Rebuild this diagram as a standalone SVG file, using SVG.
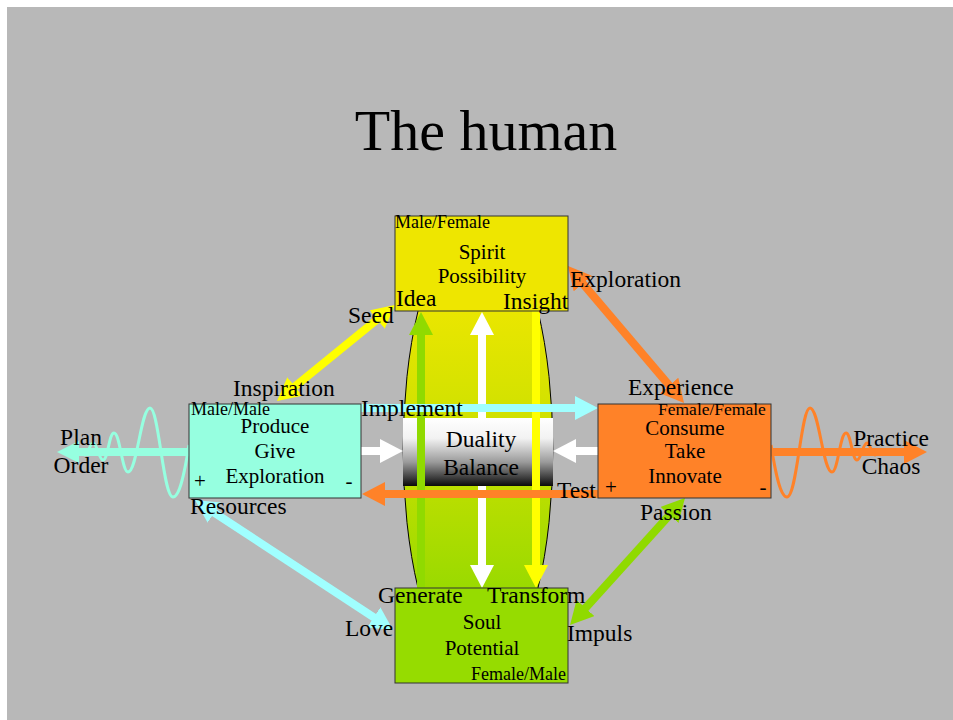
<svg xmlns="http://www.w3.org/2000/svg" width="953" height="720" viewBox="0 0 953 720">
<defs>
<style>
text{font-family:"Liberation Serif","Times New Roman",serif;fill:#000}
.lbl{font-size:23.5px}
.box{font-size:21px;text-anchor:middle}
.sm{font-size:18px}
.ttl{font-size:58px;text-anchor:middle}
.nb{stroke:#333;stroke-width:1}
.sh{fill:none;stroke-width:8}
.wave{fill:none;stroke-width:3}
</style>
<linearGradient id="lens" x1="0" y1="0" x2="0" y2="1">
<stop offset="0" stop-color="#eae600"/>
<stop offset="0.5" stop-color="#c8e000"/>
<stop offset="1" stop-color="#9ada00"/>
</linearGradient>
<linearGradient id="bw" x1="0" y1="0" x2="0" y2="1">
<stop offset="0" stop-color="#ffffff"/>
<stop offset="0.3" stop-color="#f2f2f2"/>
<stop offset="0.65" stop-color="#9a9a9a"/>
<stop offset="1" stop-color="#0a0a0a"/>
</linearGradient>
<marker id="mY" markerUnits="userSpaceOnUse" markerWidth="23" markerHeight="24" viewBox="0 0 23 24" refX="1" refY="12" orient="auto-start-reverse"><path d="M0,0L23,12L0,24Z" fill="#ffff00"/></marker>
<marker id="mO" markerUnits="userSpaceOnUse" markerWidth="23" markerHeight="24" viewBox="0 0 23 24" refX="1" refY="12" orient="auto-start-reverse"><path d="M0,0L23,12L0,24Z" fill="#ff8228"/></marker>
<marker id="mC" markerUnits="userSpaceOnUse" markerWidth="23" markerHeight="24" viewBox="0 0 23 24" refX="1" refY="12" orient="auto-start-reverse"><path d="M0,0L23,12L0,24Z" fill="#a0ffff"/></marker>
<marker id="mG" markerUnits="userSpaceOnUse" markerWidth="23" markerHeight="24" viewBox="0 0 23 24" refX="1" refY="12" orient="auto-start-reverse"><path d="M0,0L23,12L0,24Z" fill="#90da00"/></marker>
<marker id="mW" markerUnits="userSpaceOnUse" markerWidth="23" markerHeight="24" viewBox="0 0 23 24" refX="1" refY="12" orient="auto-start-reverse"><path d="M0,0L23,12L0,24Z" fill="#ffffff"/></marker>
<marker id="mM" markerUnits="userSpaceOnUse" markerWidth="22" markerHeight="22" viewBox="0 0 22 22" refX="1" refY="11" orient="auto-start-reverse"><path d="M0,0L22,11L0,22Z" fill="#96ffe0"/></marker>
</defs>
<rect x="0" y="0" width="953" height="720" fill="#ffffff"/>
<rect x="7" y="7" width="946" height="713" fill="#b8b8b8"/>
<text class="ttl" x="486" y="150">The human</text>

<g id="lens-shape">
<path d="M418,311 A75,232 0 0 0 418,588 L538,588 A75,232 0 0 0 538,311 Z" fill="url(#lens)"/>
<path d="M418,311 A75,232 0 0 0 418,588 M538,588 A75,232 0 0 0 538,311" fill="none" stroke="#000" stroke-width="1"/>
</g>

<g id="connectors">
<path class="wave" stroke="#96ffe0" d="M189,445 C185,470 180,497 173,497 C163,497 159,408 150,408 C141,408 137,472 128,472 C122,472 120,433 114,433 C109,433 108,460 103,460 C99,460 97,443 93,443 C90,443 88,455 85,455 C82,455 81,450 78,451"/>
<path class="wave" stroke="#ff8228" d="M771,445 C775,470 780,497 787,497 C797,497 801,408 810,408 C819,408 823,472 832,472 C838,472 840,433 846,433 C851,433 852,460 857,460 C861,460 863,443 867,443 C870,443 872,455 875,455 C878,455 879,450 882,451"/>
<line class="sh" stroke="#96ffe0" x1="189" y1="452" x2="78" y2="452" marker-end="url(#mM)"/>
<line class="sh" stroke="#ff8228" x1="771" y1="452" x2="905" y2="452" marker-end="url(#mO)"/>
<line class="sh" stroke="#ffffff" stroke-width="7" x1="482" y1="334" x2="482" y2="566" marker-start="url(#mW)" marker-end="url(#mW)"/>
</g>

<g id="duality">
<rect x="403" y="418" width="150" height="68" fill="url(#bw)"/>
<text class="box" style="font-size:23.5px" x="481" y="447">Duality</text>
<text class="box" style="font-size:23.5px" x="481" y="475">Balance</text>
</g>

<g id="connectors-front">
<line class="sh" stroke="#90da00" stroke-width="7" x1="421" y1="588" x2="421" y2="334" marker-end="url(#mG)"/>
<line class="sh" stroke="#ffff00" stroke-width="7" x1="536" y1="311" x2="536" y2="566" marker-end="url(#mY)"/>
<line class="sh" stroke="#a0ffff" stroke-width="7" x1="361" y1="408" x2="576" y2="408" marker-end="url(#mC)"/>
<line class="sh" stroke="#ff8228" x1="598" y1="494" x2="384" y2="494" marker-end="url(#mO)"/>
<line class="sh" stroke="#ffffff" stroke-width="9" x1="361" y1="451" x2="381" y2="451" marker-end="url(#mW)"/>
<line class="sh" stroke="#ffffff" stroke-width="9" x1="598" y1="451" x2="575" y2="451" marker-end="url(#mW)"/>
<line class="sh" stroke="#ffff00" x1="377.9" y1="318.9" x2="294.1" y2="387.1" marker-start="url(#mY)" marker-end="url(#mY)"/>
<line class="sh" stroke="#ff8228" x1="582.2" y1="282.8" x2="669.8" y2="386.2" marker-start="url(#mO)" marker-end="url(#mO)"/>
<line class="sh" stroke="#a0ffff" x1="213.4" y1="512.1" x2="374.6" y2="617.9" marker-start="url(#mC)" marker-end="url(#mC)"/>
<line class="sh" stroke="#90da00" x1="670.2" y1="514.3" x2="584.8" y2="608.7" marker-start="url(#mG)" marker-end="url(#mG)"/>
</g>

<g id="spirit">
<rect class="nb" x="395" y="216" width="173" height="95" fill="#eee600"/>
<text class="sm" x="395" y="228">Male/Female</text>
<text class="box" x="482" y="259">Spirit</text>
<text class="box" x="482" y="283">Possibility</text>
</g>

<g id="produce">
<rect class="nb" x="189" y="404" width="172" height="94" fill="#96ffe0"/>
<text class="sm" x="191" y="415">Male/Male</text>
<text class="box" x="275" y="433">Produce</text>
<text class="box" x="275" y="458">Give</text>
<text class="box" x="275" y="483">Exploration</text>
<text class="box" x="200" y="488">+</text>
<text class="box" x="349" y="488">-</text>
</g>

<g id="consume">
<rect class="nb" x="598" y="404" width="173" height="94" fill="#ff8228"/>
<text class="sm" style="font-size:17.5px" x="658" y="415">Female/Female</text>
<text class="box" x="685" y="435">Consume</text>
<text class="box" x="685" y="458">Take</text>
<text class="box" x="685" y="483">Innovate</text>
<text class="box" x="611" y="494">+</text>
<text class="box" x="763" y="494">-</text>
</g>

<g id="soul">
<rect class="nb" x="395" y="588" width="173" height="95" fill="#96dc00"/>
<text class="box" x="482" y="629">Soul</text>
<text class="box" x="482" y="655">Potential</text>
<text class="sm" x="471" y="680">Female/Male</text>
</g>

<g id="labels">
<text class="lbl" x="396" y="306">Idea</text>
<text class="lbl" x="503" y="309">Insight</text>
<text class="lbl" x="348" y="323">Seed</text>
<text class="lbl" x="570" y="287">Exploration</text>
<text class="lbl" x="233" y="396">Inspiration</text>
<text class="lbl" x="361" y="416">Implement</text>
<text class="lbl" x="628" y="395">Experience</text>
<text class="lbl" x="81" y="445" text-anchor="middle">Plan</text>
<text class="lbl" x="81" y="473" text-anchor="middle">Order</text>
<text class="lbl" x="891" y="446" text-anchor="middle">Practice</text>
<text class="lbl" x="891" y="474" text-anchor="middle">Chaos</text>
<text class="lbl" x="190" y="514">Resources</text>
<text class="lbl" x="557" y="498">Test</text>
<text class="lbl" x="640" y="520">Passion</text>
<text class="lbl" x="378" y="603">Generate</text>
<text class="lbl" x="487" y="603">Transform</text>
<text class="lbl" x="345" y="636">Love</text>
<text class="lbl" x="567" y="641">Impuls</text>
</g>
</svg>
